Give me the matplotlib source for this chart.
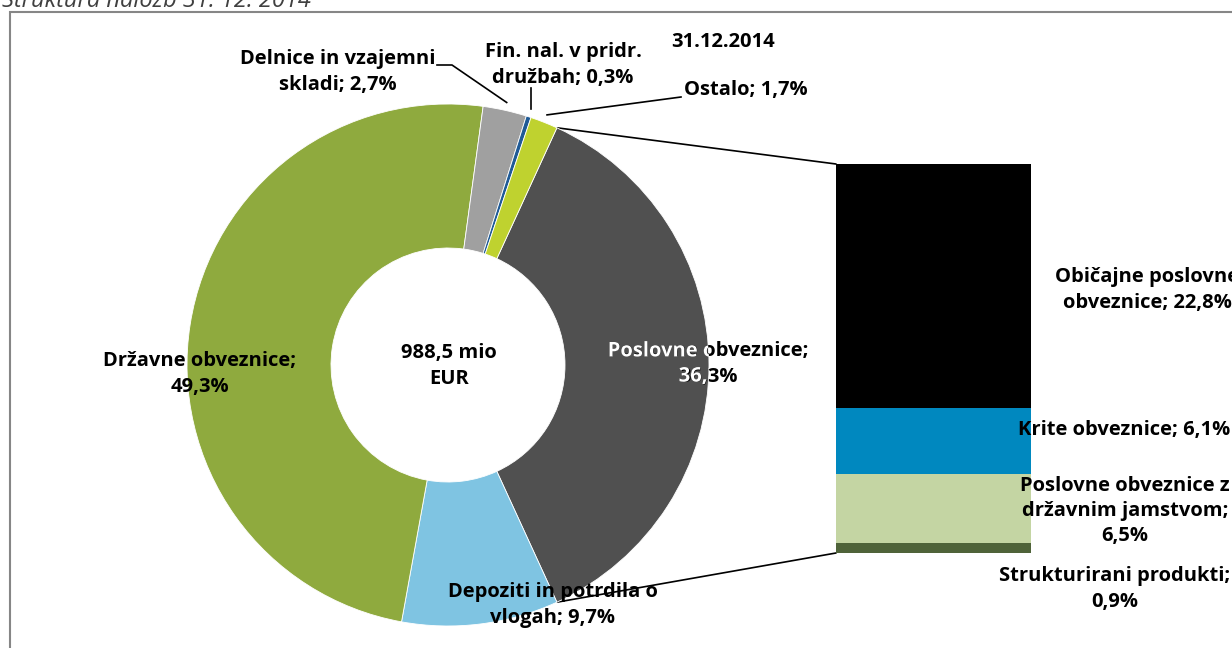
import numpy as np
import matplotlib
matplotlib.use('Agg')
import matplotlib.pyplot as plt
import matplotlib.patheffects as pe
from matplotlib.patches import Rectangle, ConnectionPatch

plt.rcParams['font.family'] = ['Open Sans', 'DejaVu Sans']

# Portfolio structure, 31.12.2014 (shares in %)
pie_names = ['Poslovne obveznice', 'Depoziti in potrdila o\nvlogah', 'Državne obveznice',
             'Delnice in vzajemni\nskladi', 'Fin. nal. v pridr.\ndružbah', 'Ostalo']
pie_breaks = ['\n', ' ', '\n', ' ', ' ', ' ']
pie_shares = [36.3, 9.7, 49.3, 2.7, 0.3, 1.7]
pie_colors = ['#505050', '#7fc4e2', '#8faa3e', '#a0a0a0', '#1f5a96', '#bfd22f']

# Breakdown of corporate bonds (bottom to top)
bar_names = ['Strukturirani produkti', 'Poslovne obveznice z\ndržavnim jamstvom',
             'Krite obveznice', 'Običajne poslovne\nobveznice']
bar_breaks = ['\n', '\n', ' ', ' ']
bar_shares = [0.9, 6.5, 6.1, 22.8]
bar_colors = ['#4f6339', '#c4d5a3', '#0088bf', '#000000']

total_label = '988,5 mio\nEUR'
date_label = '31.12.2014'
title = 'Struktura naložb 31. 12. 2014'

W, H = 1232, 648
CX, CY = 448, 365
R_OUT, R_IN = 261, 117
FS = 14.5


def py(y):
    # layout positions are given from the top edge
    return H - y


def pct(v):
    return f'{v:.1f}%'.replace('.', ',')


fig = plt.figure(figsize=(W / 100, H / 100), dpi=100)
ax = fig.add_axes([0, 0, 1, 1])
ax.set_zorder(2)  # labels go over the bar

wedges, _ = ax.pie(pie_shares, colors=pie_colors, startangle=180 * pie_shares[0] / 100,
                   counterclock=False, center=(CX, py(CY)), radius=R_OUT,
                   wedgeprops=dict(width=R_OUT - R_IN, edgecolor='white', linewidth=0.6))
ax.set_xlim(0, W)
ax.set_ylim(0, H)
ax.set_aspect('equal')
ax.axis('off')

txt = dict(fontsize=FS, fontweight='bold', ha='center', va='center', linespacing=1.35)

# slice labels
label_pos = [(708, 364), (553, 605), (200, 374), (338, 72), (563, 65), (746, 90)]
for name, brk, v, (lx, ly) in zip(pie_names, pie_breaks, pie_shares, label_pos):
    s = f'{name};{brk}{pct(v)}'
    ax.text(lx, py(ly), s, color='black', **txt)
    if name == 'Poslovne obveznice':
        # white where the label sits on the dark slice
        t = ax.text(lx, py(ly), s, color='white', clip_on=True, **txt)
        t.set_path_effects([pe.Normal()])
        t.set_clip_path(wedges[0])

ax.text(CX + 1, py(366), total_label, color='black', **txt)
ax.text(723, py(42), date_label, color='black', **txt)


def edge_point(theta, r):
    a = np.deg2rad(theta)
    return CX + r * np.cos(a), py(CY) + r * np.sin(a)


# leader lines for the small slices
w_del, w_fin, w_ost = wedges[3], wedges[4], wedges[5]
x1, y1 = edge_point((w_del.theta1 + w_del.theta2) / 2, R_OUT + 8)
ax.plot([437, 452, x1], [py(65), py(65), y1], color='black', lw=1.2)
x2, y2 = edge_point((w_fin.theta1 + w_fin.theta2) / 2, R_OUT + 8)
ax.plot([x2, x2], [py(88), y2], color='black', lw=1.2)
x3, y3 = edge_point((w_ost.theta1 + w_ost.theta2) / 2, R_OUT + 8)
ax.plot([x3, 681], [y3, py(97)], color='black', lw=1.2)

# bar of corporate bonds
bl, bt, bw, bh = 836, 164, 195, 389
axb = fig.add_axes([bl / W, (H - bt - bh) / H, bw / W, bh / H])
axb.set_zorder(1)
bottoms = np.concatenate([[0], np.cumsum(bar_shares)[:-1]])
axb.bar(0, bar_shares, bottom=bottoms, width=1.0, color=bar_colors, linewidth=0)
axb.set_xlim(-0.5, 0.5)
axb.set_ylim(0, sum(bar_shares))
axb.axis('off')

bar_label_pos = [(1115, 589), (1125, 511), (1124, 430), (1147, 290)]
for name, brk, v, (lx, ly) in zip(bar_names, bar_breaks, bar_shares, bar_label_pos):
    ax.text(lx, py(ly), f'{name};{brk}{pct(v)}', color='black', zorder=5, **txt)

# connectors from the split slice to the bar
w_pos = wedges[0]
for theta, yb in [(w_pos.theta2, sum(bar_shares)), (w_pos.theta1, 0)]:
    con = ConnectionPatch(xyA=edge_point(theta, R_OUT), coordsA=ax.transData,
                          xyB=(-0.5, yb), coordsB=axb.transData,
                          color='black', lw=1.2)
    fig.add_artist(con)

# chart frame and (clipped) title
fig.add_artist(Rectangle((10 / W, 0 - 0.01), 1.1, (H - 12) / H + 0.01,
                         transform=fig.transFigure, fill=False,
                         edgecolor='#868686', lw=1.5))
fig.text(2 / W, 1 - 7 / H, title, fontsize=17, style='italic', color='#404040',
         ha='left', va='baseline')

fig.savefig('out.png', dpi=100)
